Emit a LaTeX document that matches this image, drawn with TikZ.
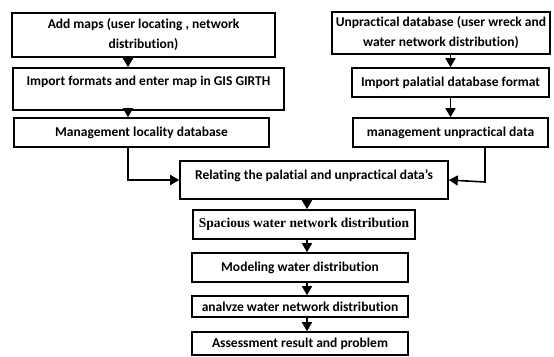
\documentclass[tikz,border=0pt]{standalone}
\usepackage{fontspec}
\setmainfont[Ligatures=NoCommon]{Carlito}
\newfontfamily\serifbold{Liberation Serif}
\usepackage{tikz}
\usetikzlibrary{
    arrows.meta
}

\begin{document}
\begin{tikzpicture}[
    x=1pt, y=-1pt,
    box/.style={
      draw,
      line width=1.6pt,
      inner sep=1pt,
      align=center,
      font=\bfseries\fontsize{13.5}{20}\selectfont
    },
    arr/.style={
      line width=1.6pt,
      -{Triangle[width=10pt,length=9pt]}
    }
  ]

  \useasboundingbox (0,0) rectangle (554,356);

  % left column {{{
  \node[box, minimum width=263pt, minimum height=44pt] (maps) at (143.5,35)
  {Add maps (user locating , network\\distribution)};
  \node[box, minimum width=271pt, minimum height=42pt, text depth=16pt] (import) at (148.5,89)
  {Import formats and enter map in GIS GIRTH};
  \node[box, minimum width=255pt, minimum height=29pt] (locality) at (141.5,132.5)
  {Management locality database};
  % }}}

  % right column {{{
  \node[box, minimum width=218pt, minimum height=42pt] (unpract) at (441,33)
  {Unpractical database (user wreck and\\water network distribution)};
  \node[box, minimum width=197pt, minimum height=29pt] (palatial) at (450.5,82.5)
  {Import palatial database format};
  \node[box, minimum width=195pt, minimum height=29pt] (mgmt) at (450.5,132.5)
  {management unpractical data};
  % }}}

  % main chain {{{
  \node[box, minimum width=268pt, minimum height=38pt, text depth=10pt] (relate) at (314,180)
  {Relating the palatial and unpractical data’s};
  \node[box, minimum width=222pt, minimum height=29pt, font=\serifbold\bfseries\fontsize{13.5}{16}\selectfont] (spacious) at (304,224.5)
  {Spacious water network distribution};
  \node[box, minimum width=216pt, minimum height=29pt] (modeling) at (300,267.5)
  {Modeling water distribution};
  \node[box, minimum width=216pt, minimum height=21pt] (analyze) at (300,306.5)
  {analvze water network distribution};
  \node[box, minimum width=216pt, minimum height=23pt] (assess) at (300,343.5)
  {Assessment result and problem};
  % }}}

  \coordinate (lx) at (128,0);
  \coordinate (cx) at (307,0);
  \coordinate (rk) at (485,182);

  % arrows {{{
  \draw[arr] (maps.south -| lx) -- (import.north -| lx);
  \draw[arr] (import.south -| lx) -- (locality.north -| lx);
  \draw[arr] (unpract.south -| palatial.north) -- (palatial.north);
  \draw[arr] (palatial.south) -- (mgmt.north);
  \draw[arr] (locality.south -| lx) |- (relate.west);
  \draw[arr] (mgmt.south -| rk) -- (rk) -- (relate.east);
  \draw[arr] (relate.south -| cx) -- (spacious.north -| cx);
  \draw[arr] (spacious.south -| cx) -- (modeling.north -| cx);
  \draw[arr] (modeling.south -| cx) -- (analyze.north -| cx);
  \draw[arr] (analyze.south -| cx) -- (assess.north -| cx);
  % }}}

\end{tikzpicture}
\end{document}
